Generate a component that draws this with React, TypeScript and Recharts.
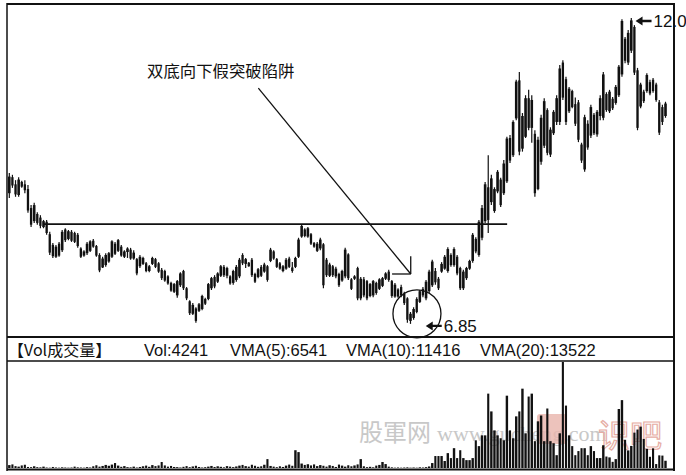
import { ComposedChart, Bar, XAxis, YAxis, ReferenceLine, ReferenceDot } from "recharts"

// daily bars as [open, high, low, close]
const ohlc: [number, number, number, number][] = [
  [9.05, 9.39, 8.97, 9.33], [9.32, 9.36, 9.14, 9.18], [9.2, 9.27, 8.99, 9.03], [9.02, 9.32, 8.99, 9.28],
  [9.24, 9.26, 9.14, 9.16], [9.2, 9.27, 9.05, 9.1], [9.12, 9.19, 8.72, 8.76], [8.8, 8.85, 8.48, 8.52],
  [8.58, 8.89, 8.55, 8.85], [8.7, 8.73, 8.52, 8.55], [8.64, 8.68, 8.46, 8.5], [8.48, 8.6, 8.46, 8.58],
  [8.57, 8.6, 8.35, 8.38], [8.36, 8.4, 8.01, 8.05], [8.18, 8.21, 7.96, 7.99], [7.98, 8.18, 7.96, 8.15],
  [8.2, 8.23, 7.98, 8.0], [8.09, 8.43, 8.06, 8.4], [8.44, 8.46, 8.23, 8.26], [8.28, 8.43, 8.26, 8.41],
  [8.4, 8.43, 8.23, 8.25], [8.38, 8.4, 8.21, 8.23], [8.35, 8.38, 8.13, 8.16], [8.12, 8.14, 7.96, 7.98],
  [8.0, 8.09, 7.98, 8.07], [8.04, 8.23, 8.01, 8.2], [8.08, 8.26, 8.06, 8.24], [8.25, 8.28, 8.13, 8.15],
  [8.16, 8.18, 7.98, 8.0], [8.01, 8.04, 7.72, 7.75], [7.8, 7.98, 7.79, 7.95], [7.84, 8.04, 7.81, 8.01],
  [7.9, 8.06, 7.88, 8.04], [7.98, 8.26, 7.96, 8.24], [8.2, 8.23, 8.01, 8.03], [8.08, 8.28, 8.06, 8.26],
  [8.15, 8.18, 7.98, 8.0], [7.98, 8.09, 7.96, 8.07], [8.06, 8.14, 7.96, 8.12], [8.1, 8.13, 7.93, 7.95],
  [7.95, 8.09, 7.93, 8.05], [7.94, 7.96, 7.67, 7.7], [7.82, 8.01, 7.79, 7.98], [7.86, 7.98, 7.84, 7.96],
  [7.87, 7.89, 7.72, 7.74], [7.74, 7.84, 7.72, 7.82], [7.86, 7.98, 7.84, 7.96], [7.94, 7.96, 7.79, 7.81],
  [7.87, 7.89, 7.71, 7.73], [7.76, 7.79, 7.59, 7.62], [7.74, 7.76, 7.56, 7.58], [7.65, 7.67, 7.51, 7.53],
  [7.54, 7.56, 7.39, 7.41], [7.39, 7.54, 7.37, 7.52], [7.33, 7.59, 7.29, 7.57], [7.5, 7.72, 7.47, 7.7],
  [7.74, 7.76, 7.42, 7.45], [7.45, 7.47, 7.25, 7.28], [7.23, 7.25, 7.0, 7.03], [7.02, 7.2, 7.0, 7.17],
  [7.11, 7.13, 6.87, 6.9], [7.07, 7.2, 7.05, 7.18], [7.1, 7.34, 7.08, 7.32], [7.27, 7.29, 7.17, 7.19],
  [7.27, 7.54, 7.25, 7.52], [7.45, 7.64, 7.42, 7.62], [7.64, 7.67, 7.45, 7.48], [7.56, 7.72, 7.54, 7.7],
  [7.66, 7.84, 7.64, 7.82], [7.81, 7.84, 7.64, 7.67], [7.66, 7.81, 7.62, 7.79], [7.65, 7.67, 7.51, 7.53],
  [7.54, 7.76, 7.51, 7.74], [7.59, 7.84, 7.56, 7.81], [7.65, 7.96, 7.62, 7.93], [8.01, 8.04, 7.84, 7.87],
  [7.86, 7.96, 7.79, 7.94], [7.88, 7.89, 7.81, 7.82], [7.93, 7.96, 7.64, 7.67], [7.69, 7.71, 7.54, 7.56],
  [7.64, 7.79, 7.62, 7.77], [7.81, 7.84, 7.64, 7.66], [7.73, 7.88, 7.71, 7.85], [7.82, 7.84, 7.56, 7.59],
  [7.91, 8.13, 7.89, 8.1], [8.07, 8.09, 7.93, 7.95], [7.94, 7.96, 7.79, 7.81], [7.87, 7.89, 7.76, 7.78],
  [7.74, 7.84, 7.72, 7.82], [7.78, 7.96, 7.76, 7.93], [7.95, 7.98, 7.79, 7.81], [7.8, 7.89, 7.71, 7.74],
  [7.81, 7.98, 7.79, 7.96], [7.98, 8.3, 7.96, 8.27], [8.32, 8.52, 8.3, 8.5], [8.44, 8.46, 8.31, 8.33],
  [8.32, 8.48, 8.3, 8.46], [8.36, 8.38, 8.18, 8.2], [8.21, 8.23, 8.13, 8.15], [8.08, 8.23, 8.06, 8.2],
  [8.12, 8.3, 8.09, 8.27], [8.19, 8.21, 7.45, 7.5], [7.93, 7.96, 7.64, 7.67], [7.66, 7.88, 7.64, 7.85],
  [7.82, 7.84, 7.64, 7.67], [7.65, 7.81, 7.62, 7.78], [7.69, 7.71, 7.47, 7.5], [7.58, 7.76, 7.56, 7.74],
  [7.65, 8.13, 7.62, 8.1], [8.02, 8.04, 7.59, 7.62], [7.6, 7.62, 7.42, 7.44], [7.61, 7.67, 7.59, 7.65],
  [7.79, 7.81, 7.25, 7.28], [7.28, 7.64, 7.25, 7.61], [7.6, 7.64, 7.3, 7.33], [7.57, 7.59, 7.25, 7.28],
  [7.32, 7.54, 7.3, 7.52], [7.33, 7.59, 7.3, 7.57], [7.54, 7.56, 7.34, 7.37], [7.44, 7.62, 7.42, 7.6],
  [7.49, 7.64, 7.47, 7.62], [7.61, 7.72, 7.59, 7.7], [7.73, 7.76, 7.56, 7.59], [7.57, 7.59, 7.29, 7.32],
  [7.31, 7.54, 7.29, 7.51], [7.43, 7.45, 7.29, 7.31], [7.47, 7.51, 7.3, 7.33], [7.36, 7.39, 7.17, 7.2],
  [7.28, 7.3, 6.87, 6.92], [6.9, 7.05, 6.85, 7.02], [6.95, 7.13, 6.92, 7.1], [7.27, 7.3, 7.03, 7.05],
  [7.22, 7.42, 7.2, 7.4], [7.44, 7.47, 7.3, 7.33], [7.28, 7.59, 7.25, 7.56], [7.4, 7.76, 7.37, 7.73],
  [7.5, 7.93, 7.47, 7.9], [7.74, 7.79, 7.51, 7.55], [7.61, 7.64, 7.42, 7.45], [7.73, 7.89, 7.71, 7.86],
  [7.78, 8.01, 7.76, 7.98], [7.74, 8.14, 7.71, 8.11], [8.01, 8.04, 7.81, 7.84], [7.84, 8.14, 7.81, 8.11],
  [7.98, 8.01, 7.67, 7.7], [7.79, 7.81, 7.42, 7.45], [7.45, 7.76, 7.42, 7.73], [7.62, 7.81, 7.59, 7.79],
  [7.78, 7.93, 7.76, 7.91], [7.91, 8.38, 7.88, 8.35], [8.28, 8.31, 8.04, 8.07], [8.01, 8.6, 7.98, 8.57],
  [8.3, 8.85, 8.26, 8.8], [8.58, 9.24, 8.55, 9.2], [9.15, 9.69, 8.38, 8.6], [8.9, 9.36, 8.85, 9.3],
  [8.75, 9.15, 8.72, 9.12], [9.08, 9.44, 9.05, 9.41], [9.28, 9.31, 8.82, 8.85], [9.05, 9.61, 9.02, 9.55],
  [9.25, 10.0, 9.22, 9.97], [9.98, 10.03, 9.56, 9.6], [9.69, 10.28, 9.66, 10.25], [10.31, 10.96, 10.28, 10.93],
  [10.95, 11.09, 9.69, 9.75], [9.8, 10.4, 9.75, 10.35], [10.0, 10.7, 9.98, 10.65], [10.65, 10.79, 10.11, 10.15],
  [10.15, 10.7, 9.9, 10.62], [10.05, 10.11, 8.99, 9.05], [9.12, 10.0, 9.1, 9.95], [9.58, 10.37, 9.53, 10.32],
  [9.85, 10.65, 9.81, 10.6], [10.45, 10.48, 9.69, 9.73], [9.7, 10.16, 9.66, 10.12], [10.06, 10.45, 10.03, 10.42],
  [10.25, 10.7, 10.2, 10.65], [10.25, 11.21, 10.2, 11.15], [11.25, 11.29, 10.62, 10.66], [10.97, 11.01, 10.2, 10.25],
  [10.43, 10.84, 10.4, 10.81], [10.77, 10.79, 10.48, 10.5], [10.55, 10.66, 10.18, 10.22], [10.58, 10.62, 9.91, 9.95],
  [9.87, 9.9, 9.56, 9.6], [9.45, 10.37, 9.41, 10.33], [10.22, 10.28, 9.78, 9.82], [10.02, 10.54, 9.98, 10.5],
  [10.37, 10.4, 10.03, 10.06], [10.04, 10.45, 10.0, 10.42], [10.35, 10.7, 10.28, 10.65], [10.32, 11.09, 10.28, 11.05],
  [10.72, 10.75, 10.42, 10.45], [10.43, 10.79, 10.4, 10.76], [10.64, 10.67, 10.45, 10.48], [10.57, 10.87, 10.54, 10.84],
  [10.7, 11.21, 10.67, 11.18], [11.05, 11.98, 11.01, 11.95], [11.65, 11.68, 11.24, 11.28], [11.25, 11.8, 11.21, 11.75],
  [11.45, 12.0, 11.41, 11.96], [11.85, 11.88, 11.04, 11.08], [11.12, 11.16, 10.11, 10.15], [10.51, 10.91, 10.48, 10.88],
  [10.76, 10.79, 10.57, 10.6], [10.77, 11.07, 10.74, 11.04], [10.92, 10.96, 10.7, 10.73], [10.96, 10.99, 10.74, 10.77],
  [10.88, 10.91, 10.59, 10.62], [10.58, 10.62, 10.03, 10.07], [10.5, 10.54, 10.2, 10.25], [10.35, 10.59, 10.32, 10.56],
]

// traded volume per bar
const volume: number[] = [
  1700, 2100, 1100, 800, 1500, 1900, 600, 500, 1000, 500,
  400, 800, 300, 200, 600, 300, 200, 400, 300, 200,
  300, 800, 400, 300, 200, 500, 300, 1000, 1600, 800,
  1200, 1800, 1300, 2000, 2900, 1400, 700, 1100, 500, 400,
  800, 300, 600, 1000, 1400, 700, 1700, 1100, 1500, 3500,
  1500, 800, 1200, 600, 500, 300, 700, 1100, 500, 900,
  1300, 600, 300, 500, 800, 1200, 600, 1000, 700, 400,
  1100, 800, 500, 900, 1400, 1800, 1100, 800, 1900, 1300,
  700, 1000, 1900, 5200, 1200, 800, 500, 1000, 600, 1400,
  2000, 1300, 10400, 9300, 2600, 1800, 2200, 1500, 2100, 1100,
  1700, 1300, 800, 1600, 1200, 600, 2000, 1400, 800, 1600,
  1000, 1500, 2100, 5200, 1000, 500, 700, 400, 1400, 1800,
  3500, 2300, 800, 400, 200, 300, 200, 300, 400, 200,
  300, 200, 400, 300, 500,
  900, 2900, 7000, 7000, 7000, 4100, 8700, 5800, 11600, 5800,
  10400, 5800, 4600, 4600, 5800, 16200, 12800, 19100, 19100, 43500,
  33100, 22000, 19100, 17400, 16200, 42300, 22000, 17400, 30200, 33100,
  46400, 20300, 41800, 43500, 15700, 27300, 30700, 15700, 34800, 15700,
  14500, 7500, 20300, 63800, 36500, 19100, 12800, 7500, 9900, 11600,
  11600, 7500, 12800, 9900, 5800, 5800, 13300,
  6700, 6200, 3600, 5200, 34500, 39700, 16500, 10300, 12900, 20680,
  22500, 24200, 17000, 11200, 6555, 11500, 2300, 7400, 7264, 4241,
]

const volStats = ["Vol:4241", "VMA(5):6541", "VMA(10):11416", "VMA(20):13522"]
const volStatX = [144, 230, 346, 480]
const title = "双底向下假突破陷阱"
const lowLabel = "6.85"
const highLabel = "12.00"

const rows = ohlc.map(([open, high, low, close], i) => ({ i, open, high, low, close, vol: volume[i] }))

const INK = "#111"
const W = 686
const MARGIN_X = { left: 8, right: 18.7 }

function Candle(props: any) {
  const { x, y, width, height, payload } = props
  if (!payload || height == null) return null
  const top = Math.min(y, y + height)
  const h = Math.abs(height)
  const k = payload.high === payload.low ? 0 : h / (payload.high - payload.low)
  const cx = x + width / 2
  const bTop = top + (payload.high - Math.max(payload.open, payload.close)) * k
  const bBot = top + (payload.high - Math.min(payload.open, payload.close)) * k
  const bw = payload.close >= payload.open ? 2.6 : 2.3
  return (
    <g>
      <line x1={cx} x2={cx} y1={top} y2={top + h} stroke={INK} strokeWidth={1.2} />
      <rect x={cx - bw / 2} y={bTop} width={bw} height={Math.max(bBot - bTop, 1)} fill={INK} />
    </g>
  )
}

function VolBar(props: any) {
  const { x, y, width, height, payload } = props
  if (!payload || !height) return null
  const cx = x + width / 2
  const top = Math.min(y, y + height)
  const h = Math.abs(height)
  const bw = payload.close >= payload.open ? 2.4 : 2.1
  return <rect x={cx - bw / 2} y={top} width={bw} height={h} fill={INK} />
}

// arrow pointing left at a price, with the value written after it
const priceTag = (dx: number, dy: number, text: string) => (p: any) => {
  const tx = p.cx + dx
  const ty = p.cy + dy
  return (
    <g>
      <path d={`M${tx},${ty} l7,-4.5 v3.3 h9 v2.4 h-9 v3.3 z`} fill={INK} />
      <text x={tx + 18} y={ty + 6} fontSize={17} fontFamily="'Liberation Sans', Arial, sans-serif" fill={INK}>
        {text}
      </text>
    </g>
  )
}

export default function App() {
  return (
    <div style={{ position: "absolute", left: 0, top: 0, width: W, height: 475, background: "#fff", overflow: "hidden" }}>
      {/* watermark behind the volume panel */}
      <svg width={W} height={475} style={{ position: "absolute", left: 0, top: 0 }}>
        <text x={359} y={441} fontSize={24} fontFamily="'Noto Sans CJK SC'" fill="#c8c8c8">股軍网</text>
        <text x={437} y={441} fontSize={22} fontFamily="'Liberation Serif', serif" fill="#c8c8c8">www.gucheng.com</text>
        <rect x={537} y={414} width={30} height={30} rx={3} fill="#e8b4ab" opacity={0.8} />
        <text x={598} y={447} fontSize={32} fontFamily="'Noto Sans CJK SC'" fill="none" stroke="#e6ada4" strokeWidth={1.2}>识吧</text>
      </svg>

      <div style={{ position: "absolute", left: 0, top: 0 }}>
        <ComposedChart width={W} height={345} data={rows} margin={{ top: 5, bottom: 9, ...MARGIN_X }}>
          <XAxis dataKey="i" type="category" hide />
          <YAxis type="number" domain={[6.646, 12.219]} hide allowDataOverflow />
          <ReferenceLine segment={[{ x: 11, y: 8.53 }, { x: 160, y: 8.53 }]} stroke={INK} strokeWidth={1.8} ifOverflow="visible" />
          <ReferenceLine segment={[{ x: 80, y: 10.82 }, { x: 129, y: 7.69 }]} stroke={INK} strokeWidth={1.3} ifOverflow="visible" />
          <ReferenceLine segment={[{ x: 123, y: 7.69 }, { x: 129, y: 7.69 }]} stroke={INK} strokeWidth={1.3} ifOverflow="visible" />
          <ReferenceLine segment={[{ x: 129, y: 7.99 }, { x: 129, y: 7.69 }]} stroke={INK} strokeWidth={1.3} ifOverflow="visible" />
          <Bar dataKey={(d: any) => [d.low, d.high]} shape={Candle} isAnimationActive={false} />
          <ReferenceDot x={131} y={7.02} r={24} fill="none" stroke={INK} strokeWidth={1.3} ifOverflow="visible" />
          <ReferenceDot x={129} y={6.85} r={0} shape={priceTag(15, 2, lowLabel)} ifOverflow="visible" />
          <ReferenceDot x={200} y={12.0} r={0} shape={priceTag(4, 3, highLabel)} ifOverflow="visible" />
        </ComposedChart>
      </div>

      <div style={{ position: "absolute", left: 0, top: 356 }}>
        <ComposedChart width={W} height={116} data={rows} margin={{ top: 6, bottom: 4, ...MARGIN_X }}>
          <XAxis dataKey="i" type="category" hide />
          <YAxis type="number" domain={[0, 62000]} hide allowDataOverflow />
          <Bar dataKey="vol" shape={VolBar} isAnimationActive={false} />
        </ComposedChart>
      </div>

      {/* panel frames and volume header */}
      <svg width={W} height={475} style={{ position: "absolute", left: 0, top: 0, pointerEvents: "none" }}>
        <line x1={7} x2={675} y1={4} y2={4} stroke={INK} strokeWidth={2} />
        <line x1={7} x2={7} y1={3} y2={471} stroke={INK} strokeWidth={1.5} />
        <line x1={674} x2={674} y1={3} y2={471} stroke={INK} strokeWidth={2} />
        <line x1={7} x2={675} y1={337} y2={337} stroke={INK} strokeWidth={2} />
        <line x1={7} x2={675} y1={361} y2={361} stroke={INK} strokeWidth={1.5} />
        <line x1={7} x2={675} y1={469.5} y2={469.5} stroke={INK} strokeWidth={2} />
        <text x={147} y={77} fontSize={16.4} fontFamily="'Noto Sans CJK SC'" fill={INK}>{title}</text>
        <text x={8} y={356} fontSize={16} fontFamily="'Noto Sans CJK SC'" fill={INK}>【Vol成交量】</text>
        {volStats.map((s, k) => (
          <text key={s} x={volStatX[k]} y={356} fontSize={16.5} fontFamily="'Liberation Sans', Arial, sans-serif" fill={INK}>
            {s}
          </text>
        ))}
      </svg>
    </div>
  )
}
